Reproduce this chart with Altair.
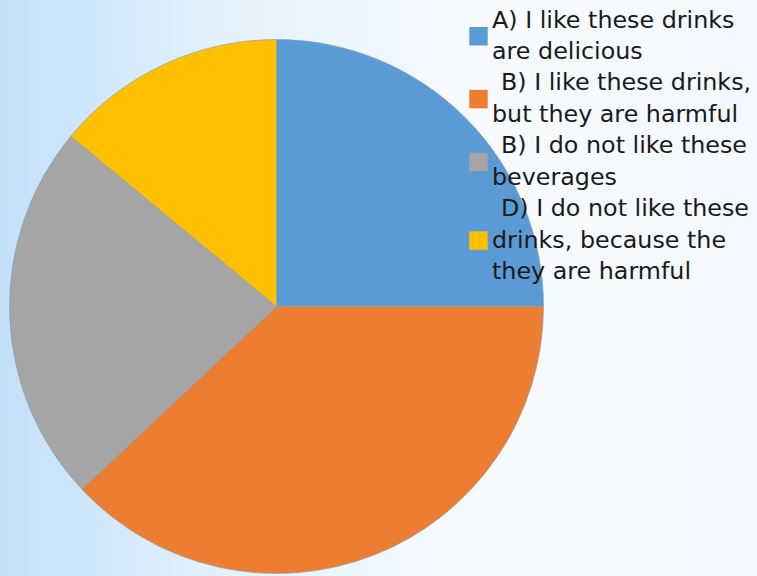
import altair as alt
import pandas as pd

categories = [
    "A) I like these drinks are delicious",
    "B) I like these drinks, but they are harmful",
    "B) I do not like these beverages",
    "D) I do not like these drinks, because the they are harmful",
]
values = [25, 38, 23, 14]
colors = ["#5B9BD5", "#ED7D31", "#A5A5A5", "#FFC000"]

# legend text as shown (wrapped lines), and which item each line belongs to
legend_lines = [
    "A) I like these drinks",
    "are delicious",
    "B) I like these drinks,",
    "but they are harmful",
    "B) I do not like these",
    "beverages",
    "D) I do not like these",
    "drinks, because the",
    "they are harmful",
]
line_item = [0, 0, 1, 1, 2, 2, 3, 3, 3]

df = pd.DataFrame({"category": categories, "value": values, "idx": list(range(len(values)))})
lines_df = pd.DataFrame({
    "text": legend_lines,
    "row": list(range(len(legend_lines))),
    "item": line_item,
})
lines_df["category"] = [categories[i] for i in line_item]

W, H = 757, 576
color_scale = alt.Scale(domain=categories, range=colors)
row_scale = alt.Scale(domain=[0, len(legend_lines) - 1], range=[20.5, 272])

bg = alt.Chart(alt.Data(values=[{"a": 1}])).mark_rect(
    color=alt.Gradient(
        gradient="linear",
        x1=0, y1=0.5, x2=1, y2=0.5,
        stops=[
            alt.GradientStop(color="#c2e0fa", offset=0),
            alt.GradientStop(color="#e4f2fd", offset=0.3),
            alt.GradientStop(color="#f7fbff", offset=0.65),
            alt.GradientStop(color="#f2f8fd", offset=1),
        ],
    )
).encode(x=alt.value(0), x2=alt.value(W), y=alt.value(0), y2=alt.value(H))

pie = alt.Chart(df).mark_arc(radius=267, stroke="#8f9eab", strokeWidth=0.7).encode(
    theta=alt.Theta("value:Q", stack=True),
    order=alt.Order("idx:Q"),
    x=alt.value(276.5),
    y=alt.value(306.5),
    color=alt.Color("category:N", scale=color_scale, legend=None),
)

leg_sq = alt.Chart(lines_df).transform_aggregate(
    row="mean(row)", groupby=["category"]
).mark_square(size=340, opacity=1).encode(
    x=alt.value(478.5),
    y=alt.Y("row:Q", scale=row_scale, axis=None),
    color=alt.Color("category:N", scale=color_scale, legend=None),
)

# first line of the 2nd-4th entries is indented by one space in the original
leg_txt = alt.Chart(lines_df).transform_calculate(
    indent="test(/^[BD]\\)/, datum.text) ? 1 : 0"
).mark_text(
    align="left", baseline="middle", font="DejaVu Sans", fontSize=23.8, color="#1a1a1a"
).encode(
    x=alt.X("indent:Q", scale=alt.Scale(domain=[0, 1], range=[492, 501]), axis=None),
    y=alt.Y("row:Q", scale=row_scale, axis=None),
    text="text:N",
)

chart = alt.layer(bg, pie, leg_sq, leg_txt).resolve_scale(x="independent").properties(
    width=W, height=H, autosize=alt.AutoSizeParams(type="none"), padding=0
).configure_view(stroke=None)

chart.save("out.html", embed_options={"renderer": "svg", "actions": False})
